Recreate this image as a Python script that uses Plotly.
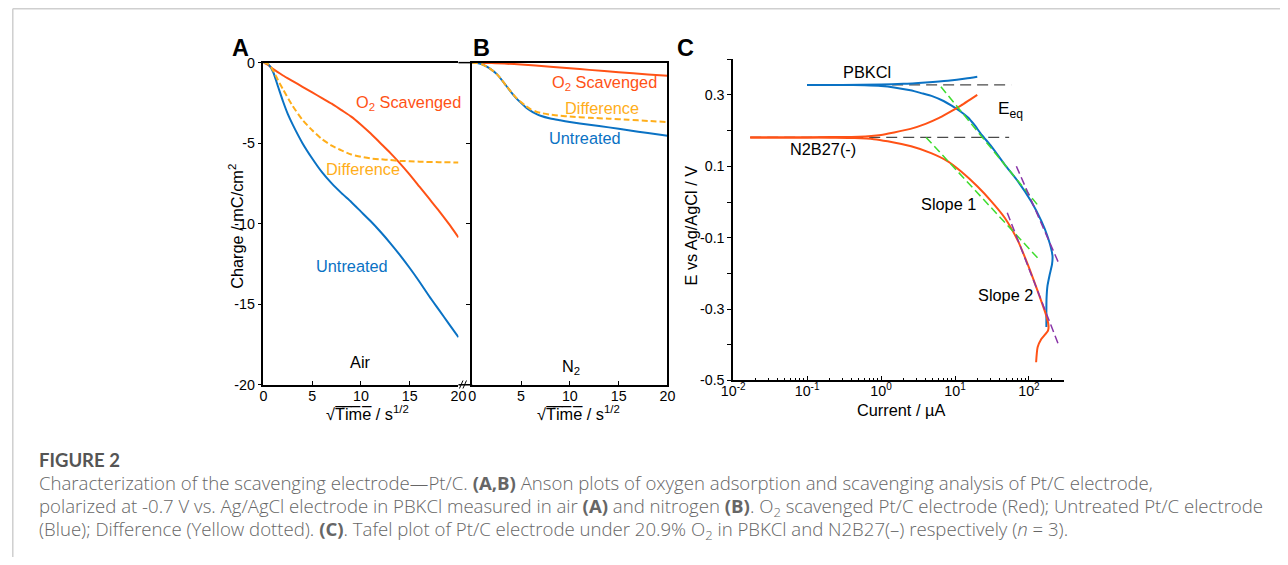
import plotly.graph_objects as go

W, H = 1288, 565

# ---------------- Panel A (Air) ----------------
a_red_x = [0, 0.5, 1, 2, 3, 4, 5, 6, 7, 8, 9, 10, 11, 12, 13, 14, 15, 16, 17, 18, 19, 20]
a_red_y = [0, -0.15, -0.4, -0.8, -1.15, -1.5, -1.85, -2.2, -2.55, -2.95, -3.35, -3.85, -4.4, -5.0,
           -5.6, -6.25, -6.95, -7.7, -8.45, -9.2, -10.0, -10.85]
a_blue_x = [0, 0.5, 1, 1.5, 2, 2.5, 3, 4, 5, 6, 7, 8, 9, 10, 11, 12, 13, 14, 15, 16, 17, 18, 19, 20]
a_blue_y = [0, -0.1, -0.6, -1.5, -2.4, -3.2, -3.85, -5.0, -5.95, -6.8, -7.5, -8.1, -8.65, -9.25,
            -9.85, -10.5, -11.2, -11.95, -12.75, -13.6, -14.5, -15.35, -16.2, -17.05]
a_diff_x = [0, 0.5, 1, 1.5, 2, 3, 4, 5, 6, 7, 8, 9, 10, 11, 12, 13, 14, 15, 16, 18, 20]
a_diff_y = [0, -0.1, -0.5, -1.1, -1.65, -2.7, -3.55, -4.2, -4.75, -5.15, -5.45, -5.7, -5.85, -5.95,
            -6.0, -6.05, -6.1, -6.12, -6.15, -6.18, -6.2]

# ---------------- Panel B (N2) ----------------
b_red_x = [0, 2, 5, 8, 10, 12, 15, 18, 20]
b_red_y = [0, -0.02, -0.12, -0.25, -0.35, -0.45, -0.6, -0.73, -0.82]
b_blue_x = [0, 0.5, 1, 1.5, 2, 2.5, 3, 3.5, 4, 4.5, 5, 5.5, 6, 6.5, 7, 8, 9, 10, 12, 14, 16, 18, 20]
b_blue_y = [0, -0.02, -0.1, -0.25, -0.45, -0.7, -1.05, -1.45, -1.85, -2.2, -2.5, -2.78, -3.0, -3.17,
            -3.3, -3.47, -3.58, -3.68, -3.86, -4.02, -4.2, -4.37, -4.54]
b_diff_x = [0, 0.5, 1, 1.5, 2, 2.5, 3, 3.5, 4, 4.5, 5, 5.5, 6, 6.5, 7, 8, 9, 10, 12, 14, 16, 18, 20]
b_diff_y = [0, -0.02, -0.1, -0.25, -0.45, -0.7, -1.05, -1.45, -1.83, -2.17, -2.45, -2.7, -2.9, -3.03,
            -3.12, -3.23, -3.3, -3.35, -3.42, -3.48, -3.55, -3.62, -3.69]

# ---------------- Panel C (Tafel) ----------------
c_pb_up_i = [0.1, 0.3, 1, 2, 4, 8, 14, 20]
c_pb_up_e = [0.328, 0.328, 0.329, 0.331, 0.335, 0.34, 0.346, 0.351]
c_pb_dn_i = [0.1, 0.3, 0.6, 1.0, 1.5, 2.5, 3.5, 5, 7, 9, 12, 15, 18, 23, 31, 47, 71, 107, 147, 181,
             208, 205, 190, 178, 173, 172, 172]
c_pb_dn_e = [0.328, 0.328, 0.327, 0.325, 0.321, 0.313, 0.305, 0.296, 0.283, 0.270, 0.253, 0.237,
             0.218, 0.188, 0.156, 0.105, 0.058, 0.002, -0.053, -0.1, -0.15, -0.175, -0.205, -0.235,
             -0.27, -0.31, -0.35]
c_n2_up_i = [0.017, 0.05, 0.1, 0.2, 0.5, 1.0, 1.5, 2.5, 4.0, 6.0, 8.0, 12, 16, 20]
c_n2_up_e = [0.181, 0.181, 0.181, 0.182, 0.183, 0.188, 0.195, 0.205, 0.219, 0.235, 0.249, 0.27,
             0.287, 0.30]
c_n2_dn_i = [0.017, 0.05, 0.1, 0.2, 0.44, 0.8, 1.23, 2.55, 4.75, 8, 12, 20, 31, 47, 71, 96, 131, 172,
             184, 181, 147, 131, 125]
c_n2_dn_e = [0.181, 0.181, 0.181, 0.18, 0.179, 0.176, 0.17, 0.156, 0.137, 0.114, 0.086, 0.044,
             0.002, -0.044, -0.109, -0.174, -0.249, -0.319, -0.347, -0.36, -0.384, -0.407, -0.449]
c_eq_pb_i = [0.1, 57.6]
c_eq_pb_e = [0.328, 0.328]
c_eq_n2_i = [0.017, 54]
c_eq_n2_e = [0.181, 0.181]
c_s1_pb_i = [6.45, 132]
c_s1_pb_e = [0.323, -0.009]
c_s1_n2_i = [4.07, 140]
c_s1_n2_e = [0.181, -0.163]
c_s2_pb_i = [67.6, 251]
c_s2_pb_e = [0.1, -0.17]
c_s2_n2_i = [50.9, 247]
c_s2_n2_e = [-0.03, -0.396]

ab_ytick_vals = [0, -5, -10, -15, -20]
ab_ytick_text = ["0", "-5", "-10", "-15", "-20"]
ab_xtick_vals = [0, 5, 10, 15, 20]
ab_xtick_text = ["0", "5", "10", "15", "20"]
c_ytick_vals = [0.4, 0.3, 0.2, 0.1, 0.0, -0.1, -0.2, -0.3, -0.4, -0.5]
c_ytick_text = ["", "0.3", "", "0.1", "", "-0.1", "", "-0.3", "", "-0.5"]
c_xtick_vals = [0.01, 0.1, 1, 10, 100]
c_xtick_text = ["10<sup>-2</sup>", "10<sup>-1</sup>", "10<sup>0</sup>", "10<sup>1</sup>", "10<sup>2</sup>"]
c_xminor_vals = [m * 10 ** k for k in (-2, -1, 0, 1) for m in range(2, 10)] + [200]

BLUE = "#0A72C4"
RED = "#FF5216"
YEL = "#FFAE1A"
GREEN = "#3EDC2E"
PURPLE = "#8A35A8"
GRAY = "#4a4a4a"
FONT = "Liberation Sans, Arial, sans-serif"

# the photographed page comes out slightly shrunk and centred; place things so they land where
# the reference has them
OX, OY, SX, SY = 12.2, 7.0, 0.983, 0.973
FS = 1.02


def px(x):
    return (x - OX) / SX / W


def py(y):
    return 1 - (y - OY) / SY / H


fig = go.Figure()


def add(x, y, ax, color, dash="solid", width=2, spline=True):
    fig.add_trace(go.Scatter(
        x=x, y=y, mode="lines", xaxis=ax[0], yaxis=ax[1], showlegend=False, hoverinfo="skip",
        line=dict(color=color, width=width, dash=dash, shape="spline" if spline else "linear",
                  smoothing=0.6)))


add(a_red_x, a_red_y, ("x", "y"), RED)
add(a_blue_x, a_blue_y, ("x", "y"), BLUE)
add(a_diff_x, a_diff_y, ("x", "y"), YEL, dash="6px,3px")
add(b_red_x, b_red_y, ("x2", "y2"), RED)
add(b_blue_x, b_blue_y, ("x2", "y2"), BLUE)
add(b_diff_x, b_diff_y, ("x2", "y2"), YEL, dash="6px,3px")

add(c_eq_pb_i, c_eq_pb_e, ("x3", "y3"), GRAY, dash="11px,6px", width=1.3, spline=False)
add(c_eq_n2_i, c_eq_n2_e, ("x3", "y3"), GRAY, dash="11px,6px", width=1.3, spline=False)
add(c_pb_up_i, c_pb_up_e, ("x3", "y3"), BLUE)
add(c_pb_dn_i, c_pb_dn_e, ("x3", "y3"), BLUE)
add(c_n2_up_i, c_n2_up_e, ("x3", "y3"), RED)
add(c_n2_dn_i, c_n2_dn_e, ("x3", "y3"), RED)
add(c_s1_pb_i, c_s1_pb_e, ("x3", "y3"), GREEN, dash="8px,4px", width=1.5, spline=False)
add(c_s1_n2_i, c_s1_n2_e, ("x3", "y3"), GREEN, dash="8px,4px", width=1.5, spline=False)
add(c_s2_pb_i, c_s2_pb_e, ("x3", "y3"), PURPLE, dash="8px,4px", width=1.5, spline=False)
add(c_s2_n2_i, c_s2_n2_e, ("x3", "y3"), PURPLE, dash="8px,4px", width=1.5, spline=False)

tickfont = dict(family=FONT, size=14 * FS, color="black")

ab_y_dom = [py(384.3), py(61.7)]
common_ab_x = dict(range=[0, 20], tickvals=ab_xtick_vals, ticktext=ab_xtick_text, showline=True,
                   linecolor="black", linewidth=1.5, mirror=True, ticks="inside", ticklen=4,
                   tickcolor="black", tickfont=tickfont, showgrid=False, zeroline=False,
                   ticklabelstandoff=-3)

fig.update_layout(
    width=W, height=H, margin=dict(l=0, r=0, t=0, b=0),
    paper_bgcolor="white", plot_bgcolor="white", font=dict(family=FONT),
    xaxis=dict(domain=[px(263.3), px(458)], anchor="y", **common_ab_x),
    yaxis=dict(domain=ab_y_dom, anchor="x", range=[-20, 0], tickvals=ab_ytick_vals,
               ticktext=ab_ytick_text, showline=True, linecolor="black", linewidth=1.5,
               ticks="outside", ticklen=4, tickcolor="black", tickfont=tickfont, showgrid=False,
               zeroline=False),
    xaxis2=dict(domain=[px(471.7), px(666.7)], anchor="y2", **common_ab_x),
    yaxis2=dict(domain=ab_y_dom, anchor="x2", range=[-20, 0], tickvals=ab_ytick_vals,
                showticklabels=False, showline=True, linecolor="black", linewidth=1.5, mirror=True,
                ticks="outside", ticklen=4, tickcolor="black", showgrid=False, zeroline=False),
    xaxis3=dict(domain=[px(732.3), px(1062.7)], anchor="y3", type="log", range=[-2, 2.475],
                tickvals=c_xtick_vals, ticktext=c_xtick_text, showline=True, linecolor="black",
                linewidth=1.5, ticks="inside", ticklen=5, tickcolor="black", tickfont=tickfont,
                showgrid=False, zeroline=False, ticklabelstandoff=-3,
                minor=dict(tickvals=c_xminor_vals, ticks="inside", ticklen=3, tickcolor="black",
                           showgrid=False)),
    yaxis3=dict(domain=[py(380), py(58.3)], anchor="x3", range=[-0.5, 0.4], tickvals=c_ytick_vals,
                ticktext=c_ytick_text, showline=True, linecolor="black", linewidth=1.5,
                ticks="outside", ticklen=4, tickcolor="black", tickfont=tickfont, showgrid=False,
                zeroline=False),
)

# frame break between A and B, and the figure border
shapes = [
    dict(type="line", xref="paper", yref="paper", x0=px(458), x1=px(471.7), y0=py(61.7), y1=py(61.7),
         line=dict(color="black", width=1.5)),
    dict(type="line", xref="paper", yref="paper", x0=px(458), x1=px(471.7), y0=py(384.3), y1=py(384.3),
         line=dict(color="black", width=1.5)),
    dict(type="line", xref="paper", yref="paper", x0=px(459), x1=px(462.5), y0=py(388), y1=py(380),
         line=dict(color="black", width=1)),
    dict(type="line", xref="paper", yref="paper", x0=px(462.5), x1=px(466), y0=py(388), y1=py(380),
         line=dict(color="black", width=1)),
    dict(type="line", xref="paper", yref="paper", x0=0.8 / W, x1=1, y0=1 - 0.8 / H, y1=1 - 0.8 / H,
         line=dict(color="#cfcfcf", width=1.5)),
    dict(type="line", xref="paper", yref="paper", x0=0.8 / W, x1=0.8 / W, y0=1 - 0.8 / H, y1=0,
         line=dict(color="#cfcfcf", width=1.5)),
]
fig.update_layout(shapes=shapes)

ann = []


def note(text, x, y, xr, yr, color="black", size=16, **kw):
    kw.setdefault("xanchor", "center")
    kw.setdefault("yanchor", "middle")
    ann.append(dict(text=text, x=x, y=y, xref=xr, yref=yr, showarrow=False,
                    font=dict(family=FONT, size=size * FS, color=color), **kw))


# panel A labels
note("O<sub>2</sub> Scavenged", 14.86, -2.5, "x", "y", RED)
note("Difference", 10.24, -6.6, "x", "y", YEL)
note("Untreated", 9.1, -12.6, "x", "y", BLUE)
note("Air", 9.93, -18.6, "x", "y")
# panel B labels
note("O<sub>2</sub> Scavenged", 13.5, -1.25, "x2", "y2", RED)
note("Difference", 13.3, -2.8, "x2", "y2", YEL)
note("Untreated", 11.6, -4.67, "x2", "y2", BLUE)
note("N<sub>2</sub>", 10.1, -18.9, "x2", "y2")
# panel C labels (x in log10 units)
note("PBKCl", -0.188, 0.365, "x3", "y3")
note("E<sub>eq</sub>", 1.749, 0.259, "x3", "y3", size=17)
note("N2B27(-)", -0.785, 0.148, "x3", "y3")
note("Slope 1", 0.909, -0.005, "x3", "y3")
note("Slope 2", 1.68, -0.26, "x3", "y3")

# axis titles
xtitle = "√T\u0305i\u0305m\u0305e\u0305 / s<sup>1/2</sup>"
note(xtitle, px(367), py(413), "paper", "paper")
note(xtitle, px(578), py(413), "paper", "paper")
note("Current / µA", px(900), py(410), "paper", "paper")
note("Charge / mC/cm<sup>2</sup>", px(236), py(226), "paper", "paper", textangle=-90)
note("E vs Ag/AgCl / V", px(690), py(225), "paper", "paper", textangle=-90)

# panel letters
for t, x in (("A", 240), ("B", 481), ("C", 685)):
    note("<b>%s</b>" % t, px(x), py(47), "paper", "paper", size=23)

# caption
CAP = "Open Sans, Lato, sans-serif"
cap_lines = [
    "Characterization of the scavenging electrode—Pt/C. <b>(A,B)</b> Anson plots of oxygen adsorption and scavenging analysis of Pt/C electrode,",
    "polarized at -0.7 V vs. Ag/AgCl electrode in PBKCl measured in air <b>(A)</b> and nitrogen <b>(B)</b>. O<sub>2</sub> scavenged Pt/C electrode (Red); Untreated Pt/C electrode",
    "(Blue); Difference (Yellow dotted). <b>(C)</b>. Tafel plot of Pt/C electrode under 20.9% O<sub>2</sub> in PBKCl and N2B27(–) respectively (<i>n</i> = 3).",
]
cap_y = [482, 506.5, 530]
ann.append(dict(text="FIGURE 2", x=px(37), y=py(460), xref="paper", yref="paper", showarrow=False,
                xanchor="left", yanchor="middle",
                font=dict(family="Lato, sans-serif", size=18.5, weight=700, color="#555555")))
for t, yy in zip(cap_lines, cap_y):
    ann.append(dict(text=t, x=px(37), y=py(yy), xref="paper", yref="paper", showarrow=False,
                    xanchor="left", yanchor="middle",
                    font=dict(family=CAP, size=18.6, weight=300, color="#666666")))

fig.update_layout(annotations=ann)
fig.write_html("out.html", config={"displayModeBar": False},
               post_script="document.body.style.margin='0';document.body.style.overflow='hidden';")
